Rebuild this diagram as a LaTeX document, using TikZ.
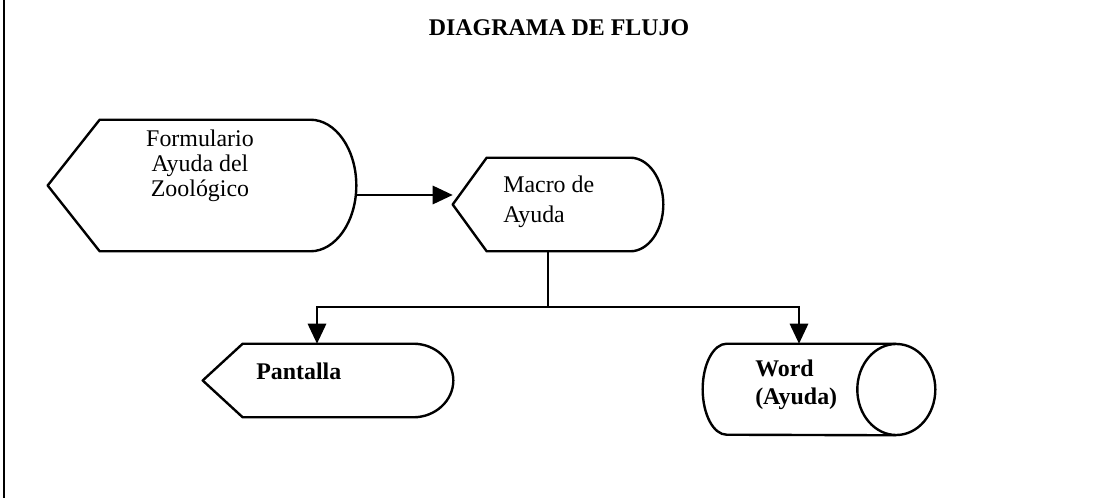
\documentclass[tikz,border=0pt]{standalone}
\usepackage{fontspec}
\setmainfont{Liberation Serif}
\usetikzlibrary{arrows.meta,positioning,calc}
\tikzset{
  frm/.style={draw=none, rectangle, inner sep=0pt},
  outl/.style={line width=1.7pt, line join=round},
  txt/.style={font=\fontsize{17}{20}\selectfont, inner sep=0pt},
  arr/.style={-{Triangle[length=5mm, width=4.6mm]}, line width=1.3pt},
  lnk/.style={line width=1.3pt}
}
% display symbol: node name, depth of the point, depth of the round end (px)
\newcommand{\dispshape}[3]{%
  \draw[outl] (#1.west) -- ($(#1.north west)+(#2,0)$) -- ($(#1.north east)+(-#3,0)$)
    .. controls ($(#1.north east)+(-0.45*#3,0)$) and ($(#1.east)!0.55!(#1.north east)$) .. (#1.east)
    .. controls ($(#1.east)!0.55!(#1.south east)$) and ($(#1.south east)+(-0.45*#3,0)$) .. ($(#1.south east)+(-#3,0)$)
    -- ($(#1.south west)+(#2,0)$) -- cycle;}
% stored data symbol (lying cylinder)
\newcommand{\cylshape}[1]{%
  \draw[outl] ($(#1.north east)+(-39,0)$) -- ($(#1.north west)+(24,0)$)
    arc[start angle=90, end angle=270, x radius=0.6cm, y radius=1.1375cm]
    -- ($(#1.south east)+(-39,0)$);
  \draw[outl] ($(#1.east)+(-39,0)$) ellipse[x radius=0.975cm, y radius=1.1375cm];}

\begin{document}
\begin{tikzpicture}[x=0.025cm, y=-0.025cm]
  \useasboundingbox (0,0) rectangle (1113,498);
  \draw[line width=1.4pt] (4,0) -- (4,498);

  \node[txt, font=\bfseries\fontsize{17}{20}\selectfont] (title) at (559,28) {DIAGRAMA DE FLUJO};

  % shapes
  \node[frm, minimum width=7.7cm, minimum height=3.275cm] (form) at (202,185.5) {};
  \node[frm, minimum width=5.25cm, minimum height=2.325cm] (macro) at (558,204.5) {};
  \node[frm, minimum width=6.25cm, minimum height=1.825cm] (pant) at (328,380.5) {};
  \node[frm, minimum width=5.8cm, minimum height=2.275cm] (word) at (819,389.5) {};
  \dispshape{form}{52}{46}
  \dispshape{macro}{34}{33}
  \dispshape{pant}{40}{40}
  \cylshape{word}

  % texts
  \node[txt, align=center, font=\fontsize{17}{17.7}\selectfont] (formtxt) at (200,166)
    {Formulario\\Ayuda del\\Zoológico};
  \node[txt, align=left, anchor=west, font=\fontsize{17}{21}\selectfont] (macrotxt) at (503,202)
    {Macro de\\Ayuda};
  \node[txt, anchor=west, font=\bfseries\fontsize{17}{20}\selectfont] (panttxt) at (256,371) {Pantalla};
  \node[txt, align=left, anchor=west, font=\bfseries\fontsize{17}{19.8}\selectfont] (wordtxt) at (755,385)
    {Word\\(Ayuda)};

  % connectors
  \coordinate (a1) at ($(form.east)+(0,9.5)$);
  \draw[arr] (a1) -- (a1 -| macro.west);
  \coordinate (split) at ($(macro.south)+(-10,56)$);
  \draw[lnk] ($(macro.south)+(-10,0)$) -- (split);
  \draw[arr] (split) -| ($(pant.north)+(-11,0)$);
  \draw[arr] (split) -| ($(word.north)+(-20,0)$);
\end{tikzpicture}
\end{document}
